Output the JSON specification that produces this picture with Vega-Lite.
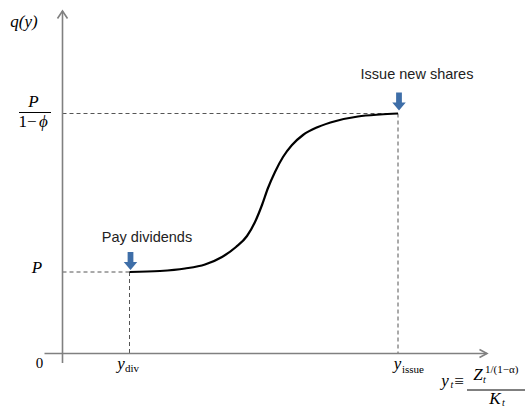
{
  "$schema": "https://vega.github.io/schema/vega-lite/v6.json",
  "width": 526,
  "height": 407,
  "autosize": {"type": "none"},
  "padding": 0,
  "background": "white",
  "config": {"view": {"stroke": null}},
  "datasets": {
    "axes": [
      {"seg": "yaxis", "ord": 1, "x": 0, "y": -9.5},
      {"seg": "yaxis", "ord": 2, "x": 0, "y": 342.5},
      {"seg": "yhead", "ord": 1, "x": -5, "y": 335},
      {"seg": "yhead", "ord": 2, "x": 0, "y": 342.5},
      {"seg": "yhead", "ord": 3, "x": 5, "y": 335},
      {"seg": "xaxis", "ord": 1, "x": -18, "y": 0},
      {"seg": "xaxis", "ord": 2, "x": 424.5, "y": 0},
      {"seg": "xhead", "ord": 1, "x": 417, "y": 4},
      {"seg": "xhead", "ord": 2, "x": 424.5, "y": 0},
      {"seg": "xhead", "ord": 3, "x": 417, "y": -4}
    ],
    "dashed": [
      {"seg": "h1", "ord": 1, "x": 0, "y": 240},
      {"seg": "h1", "ord": 2, "x": 335.5, "y": 240},
      {"seg": "v1", "ord": 1, "x": 335.5, "y": 240},
      {"seg": "v1", "ord": 2, "x": 335.5, "y": 0},
      {"seg": "h2", "ord": 1, "x": 0, "y": 81.5},
      {"seg": "h2", "ord": 2, "x": 67, "y": 81.5},
      {"seg": "v2", "ord": 1, "x": 67, "y": 81.5},
      {"seg": "v2", "ord": 2, "x": 67, "y": 0}
    ],
    "bars": [
      {"seg": "b1", "ord": 1, "x": -43.5, "y": 241},
      {"seg": "b1", "ord": 2, "x": -11.5, "y": 241},
      {"seg": "b2", "ord": 1, "x": 404.5, "y": -36.5},
      {"seg": "b2", "ord": 2, "x": 462.5, "y": -36.5}
    ],
    "curve": [
      {"x": 67, "y": 81.5},
      {"x": 97.5, "y": 82.5},
      {"x": 122.5, "y": 85},
      {"x": 142.5, "y": 89},
      {"x": 159.5, "y": 96.5},
      {"x": 173.5, "y": 106.5},
      {"x": 184.5, "y": 117.5},
      {"x": 192.5, "y": 131.5},
      {"x": 199.5, "y": 148.5},
      {"x": 205.5, "y": 165.5},
      {"x": 212.5, "y": 181.5},
      {"x": 220.5, "y": 196.5},
      {"x": 229.5, "y": 208.5},
      {"x": 240.5, "y": 218.5},
      {"x": 255.5, "y": 226.5},
      {"x": 273.5, "y": 232.5},
      {"x": 295.5, "y": 237},
      {"x": 317.5, "y": 239},
      {"x": 335.5, "y": 240}
    ],
    "arrows": [
      {"x": 68, "y": 92.5},
      {"x": 336.5, "y": 252}
    ],
    "italicBig": [
      {"x": -38.5, "y": 326.5, "text": "q(y)"},
      {"x": -29, "y": 246.5, "text": "P"},
      {"x": 58.5, "y": -15.5, "text": "y"},
      {"x": 335, "y": -15.5, "text": "y"},
      {"x": 382.5, "y": -32.5, "text": "y"},
      {"x": 415.5, "y": -26.5, "text": "Z"},
      {"x": 432.5, "y": -50.5, "text": "K"},
      {"x": -25.5, "y": 80.5, "text": "P"},
      {"x": -19, "y": 226.5, "text": "ϕ"}
    ],
    "upright": [
      {"x": 396.5, "y": -33.5, "text": "≡"},
      {"x": -35, "y": 226.5, "text": "1−"}
    ],
    "zero": [
      {"x": -23, "y": -14.5, "text": "0"}
    ],
    "subs": [
      {"x": 62.5, "y": -18.5, "text": "div"},
      {"x": 339.5, "y": -19.5, "text": "issue"},
      {"x": 422.5, "y": -19.5, "text": "1/(1−α)"}
    ],
    "tsubs": [
      {"x": 388, "y": -34.5, "text": "t"},
      {"x": 420.5, "y": -29.5, "text": "t"},
      {"x": 439.5, "y": -52.5, "text": "t"}
    ],
    "labels": [
      {"x": 354.5, "y": 274.5, "text": "Issue new shares"},
      {"x": 84.5, "y": 111.5, "text": "Pay dividends"}
    ]
  },
  "encoding": {
    "x": {"field": "x", "type": "quantitative", "axis": null, "scale": {"domain": [-62.5, 463.5], "nice": false, "zero": false}},
    "y": {"field": "y", "type": "quantitative", "axis": null, "scale": {"domain": [-53.5, 353.5], "nice": false, "zero": false}}
  },
  "layer": [
    {
      "data": {"name": "dashed"},
      "mark": {"type": "line", "color": "#555555", "strokeWidth": 1, "strokeDash": [4, 3]},
      "encoding": {"detail": {"field": "seg"}, "order": {"field": "ord", "type": "quantitative"}}
    },
    {
      "data": {"name": "axes"},
      "mark": {"type": "line", "color": "#808080", "strokeWidth": 1.6},
      "encoding": {"detail": {"field": "seg"}, "order": {"field": "ord", "type": "quantitative"}}
    },
    {
      "data": {"name": "bars"},
      "mark": {"type": "line", "color": "#000000", "strokeWidth": 1},
      "encoding": {"detail": {"field": "seg"}, "order": {"field": "ord", "type": "quantitative"}}
    },
    {
      "data": {"name": "curve"},
      "mark": {"type": "line", "color": "#000000", "strokeWidth": 2.2, "interpolate": "monotone"},
      "encoding": {}
    },
    {
      "data": {"name": "arrows"},
      "mark": {"type": "point", "filled": true, "color": "#3e6ea8", "opacity": 1, "size": 324, "shape": "M-0.32,-1L0.32,-1L0.32,0.1L0.75,0.1L0,1L-0.75,0.1L-0.32,0.1Z"},
      "encoding": {}
    },
    {
      "data": {"name": "italicBig"},
      "mark": {"type": "text", "font": "Liberation Serif", "fontStyle": "italic", "fontSize": 17, "align": "center", "baseline": "alphabetic", "color": "#000000"},
      "encoding": {"text": {"field": "text"}}
    },
    {
      "data": {"name": "upright"},
      "mark": {"type": "text", "font": "Liberation Serif", "fontSize": 17, "align": "center", "baseline": "alphabetic", "color": "#000000"},
      "encoding": {"text": {"field": "text"}}
    },
    {
      "data": {"name": "zero"},
      "mark": {"type": "text", "font": "Liberation Serif", "fontSize": 15, "align": "center", "baseline": "alphabetic", "color": "#000000"},
      "encoding": {"text": {"field": "text"}}
    },
    {
      "data": {"name": "subs"},
      "mark": {"type": "text", "font": "Liberation Serif", "fontSize": 11, "align": "left", "baseline": "alphabetic", "color": "#000000"},
      "encoding": {"text": {"field": "text"}}
    },
    {
      "data": {"name": "tsubs"},
      "mark": {"type": "text", "font": "Liberation Serif", "fontStyle": "italic", "fontSize": 10, "align": "left", "baseline": "alphabetic", "color": "#000000"},
      "encoding": {"text": {"field": "text"}}
    },
    {
      "data": {"name": "labels"},
      "mark": {"type": "text", "font": "Liberation Sans", "fontSize": 14.5, "align": "center", "baseline": "alphabetic", "color": "#222222"},
      "encoding": {"text": {"field": "text"}}
    }
  ]
}
